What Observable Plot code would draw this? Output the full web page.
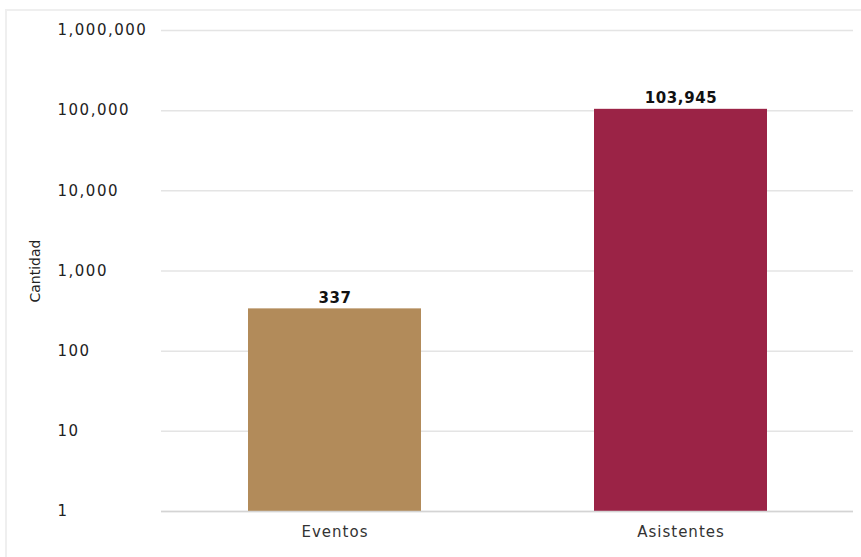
<!DOCTYPE html>
<html>
<head>
<meta charset="utf-8">
<script src="https://cdn.jsdelivr.net/npm/d3@7"></script>
<script src="https://cdn.jsdelivr.net/npm/@observablehq/plot@0.6"></script>
<style>
  html, body { margin: 0; padding: 0; background: #fff; }
  #wrap { position: relative; width: 861px; height: 557px; overflow: hidden; }
  #frame { position: absolute; left: 5px; top: 9px; width: 900px; height: 600px;
           border-left: 2px solid #efefef; border-top: 2px solid #efefef; }
  #chart { position: absolute; left: 0; top: 0; }
  g[aria-label="y-axis tick label"] text { letter-spacing: 1.5px; }
  g[aria-label="x-axis tick label"] text { letter-spacing: 1px; }
  g.barlabels text { letter-spacing: 0.6px; }
</style>
</head>
<body>
<div id="wrap"><div id="frame"></div><div id="chart"></div></div>
<script>
const categories = ["Eventos", "Asistentes"];
const values = [337, 103945];
const barColors = ["#B28B5A", "#9B2346"];
const yTicks = [1, 10, 100, 1000, 10000, 100000, 1000000];
const yLabel = "Cantidad";

const data = categories.map((c, i) => ({category: c, value: values[i]}));
const fmt = d3.format(",");

const chart = Plot.plot({
  width: 861,
  height: 557,
  marginLeft: 161,
  marginRight: 8,
  marginTop: 30,
  marginBottom: 46,
  style: {fontFamily: "DejaVu Sans, sans-serif", background: "transparent"},
  x: {domain: categories, paddingInner: 0.5, paddingOuter: 0.25, label: null},
  y: {type: "log", domain: [1, 1000000], label: null},
  color: {domain: categories, range: barColors},
  marks: [
    Plot.gridY(yTicks, {stroke: "#e4e4e4", strokeOpacity: 1, strokeWidth: 1.5}),
    Plot.axisY(yTicks, {
      tickSize: 0, tickPadding: 104, textAnchor: "start",
      tickFormat: fmt, fontSize: 15, fill: "#222", label: null
    }),
    Plot.axisY([], {
      tickSize: 0, fontSize: 14, fill: "#222",
      label: yLabel, labelAnchor: "center", labelOffset: 131, labelArrow: "none"
    }),
    Plot.axisX({
      tickSize: 0, tickPadding: 15, fontSize: 15, fill: "#333",
      label: null
    }),
    Plot.barY(data, {x: "category", y1: 1, y2: "value", fill: "category"}),
    Plot.ruleY([1], {stroke: "#d4d4d4", strokeWidth: 1.5}),
    Plot.text(data, {
      x: "category", y: "value", text: d => fmt(d.value),
      lineAnchor: "bottom", dy: -6, fontWeight: "bold", fontSize: 15, fill: "#111",
      className: "barlabels"
    })
  ]
});
document.getElementById("chart").append(chart);
</script>
</body>
</html>
